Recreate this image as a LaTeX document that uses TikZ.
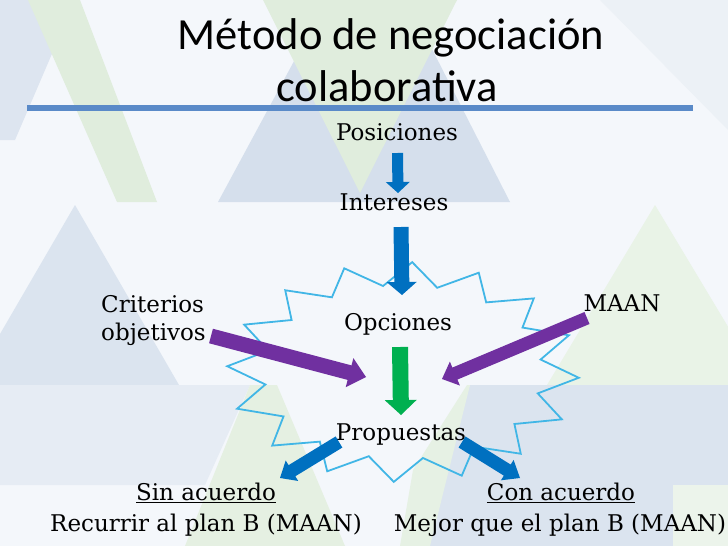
\documentclass[tikz,border=0pt]{standalone}
\usepackage{fontspec}
\setmainfont{DejaVu Serif}
\newfontfamily\titlefont{Carlito}
\usetikzlibrary{calc}
\definecolor{bluearr}{HTML}{0070C0}
\definecolor{greenarr}{HTML}{00B050}
\definecolor{purplearr}{HTML}{7030A0}
\definecolor{starblue}{HTML}{41B6E6}
\definecolor{rulecol}{HTML}{5A8AC8}
\definecolor{bgbase}{HTML}{F4F7FB}
\definecolor{paleblue}{HTML}{D5DFEC}
\definecolor{palegreen}{HTML}{E0EDDD}
\newcommand\blockarrow[6]{%
  \coordinate (ba-base) at ($(#2)!#5!(#1)$);
  \fill[#6] ($(#1)!#3!90:(#2)$) -- ($(ba-base)!#3!90:(#2)$) -- ($(ba-base)!#4!90:(#2)$) -- (#2)
     -- ($(ba-base)!#4!-90:(#2)$) -- ($(ba-base)!#3!-90:(#2)$) -- ($(#1)!#3!-90:(#2)$) -- cycle;}
\tikzset{
  lbl/.style={inner sep=0pt, font=\fontsize{23}{27}\selectfont},
  ttl/.style={inner sep=0pt, font=\titlefont\fontsize{44.5}{52}\selectfont},
  starline/.style={draw=starblue, line width=1.8pt, line join=miter}
}
\begin{document}
\begin{tikzpicture}[x=1pt,y=-1pt]
\useasboundingbox (0,0) rectangle (728,546);
\begin{scope}
\clip (0,0) rectangle (728,546);
\fill[bgbase] (0,0) rectangle (728,546);
% top band
\fill[paleblue!80] (0,0) -- (75,0) -- (15,140) -- (0,140) -- cycle;
\fill[palegreen] (28,0) -- (80,0) -- (157,202) -- (117,202) -- cycle;
\fill[paleblue] (327,0) -- (407,0) -- (510,202) -- (218,202) -- cycle;
\fill[palegreen] (263,0) -- (457,0) -- (360,193) -- cycle;
\fill[paleblue!45] (600,0) -- (728,0) -- (728,130) -- cycle;
% middle band
\fill[paleblue!85] (75,205) -- (179,385) -- (0,385) -- (0,334) -- cycle;
\fill[palegreen!70] (655,205) -- (763,385) -- (547,385) -- cycle;
% lower band
\fill[paleblue!60] (0,385) -- (250,385) -- (205,485) -- (0,485) -- cycle;
\fill[palegreen!85] (250,385) -- (277,385) -- (345,546) -- (185,546) -- cycle;
\fill[paleblue!85] (470,385) -- (728,385) -- (728,546) -- (405,546) -- cycle;
\fill[palegreen!80] (413,470) -- (467,385) -- (470,385) -- (430,546) -- (400,546) -- cycle;
\fill[palegreen!60] (673,485) rectangle (728,546);
\end{scope}
% title
\node[ttl, anchor=base] (t1) at (391,49) {Método de negociación};
\node[ttl, anchor=base] (t2) at (387,101) {colaborativa};
\fill[rulecol] (27,105) rectangle (693,111);
% star
\draw[starline] ({403+176*cos(87)},{372-110*sin(87)})
  \foreach \k in {1,...,16}{
    -- ({403+0.79*176*cos(87+22.5*\k-11.25)},{372-0.79*110*sin(87+22.5*\k-11.25)})
    -- ({403+176*cos(87+22.5*\k)},{372-110*sin(87+22.5*\k)}) } -- cycle;
% labels
\node[lbl, anchor=base] (pos) at (397,140) {Posiciones};
\node[lbl, anchor=base] (int) at (394,210) {Intereses};
\node[lbl, anchor=base] (opc) at (398,330) {Opciones};
\node[lbl, anchor=base] (pro) at (401,440) {Propuestas};
\node[lbl, anchor=base west] (cri1) at (101,312) {Criterios};
\node[lbl, anchor=base west] (cri2) at (101,340) {objetivos};
\node[lbl, anchor=base] (maan) at (622,311) {MAAN};
\node[lbl, anchor=base] (sin1) at (206,500) {\underline{Sin acuerdo}};
\node[lbl, anchor=base] (sin2) at (206,531) {Recurrir al plan B (MAAN)};
\node[lbl, anchor=base] (con1) at (561,500) {\underline{Con acuerdo}};
\node[lbl, anchor=base] (con2) at (560,531) {Mejor que el plan B (MAAN)};
% arrow ends
\coordinate (a1s) at (397.5,153); \coordinate (a1e) at (398,193);
\coordinate (a2s) at (401,227);   \coordinate (a2e) at (402,295);
\coordinate (a3s) at (400,347);   \coordinate (a3e) at (401,415);
\coordinate (a4s) at (211,336);   \coordinate (a4e) at (366,377);
\coordinate (a5s) at (587,318);   \coordinate (a5e) at (442,379);
\coordinate (a6s) at (339,442);   \coordinate (a6e) at (280,478);
\coordinate (a7s) at (462,442);   \coordinate (a7e) at (520,478);
\blockarrow{a1s}{a1e}{5.5pt}{12pt}{11pt}{bluearr}
\blockarrow{a2s}{a2e}{7.5pt}{15pt}{13pt}{bluearr}
\blockarrow{a3s}{a3e}{8pt}{16pt}{15pt}{greenarr}
\blockarrow{a4s}{a4e}{7.5pt}{15pt}{17pt}{purplearr}
\blockarrow{a5s}{a5e}{6.5pt}{13pt}{14pt}{purplearr}
\blockarrow{a6s}{a6e}{6.5pt}{12pt}{14pt}{bluearr}
\blockarrow{a7s}{a7e}{6.5pt}{12pt}{15pt}{bluearr}
\end{tikzpicture}
\end{document}
